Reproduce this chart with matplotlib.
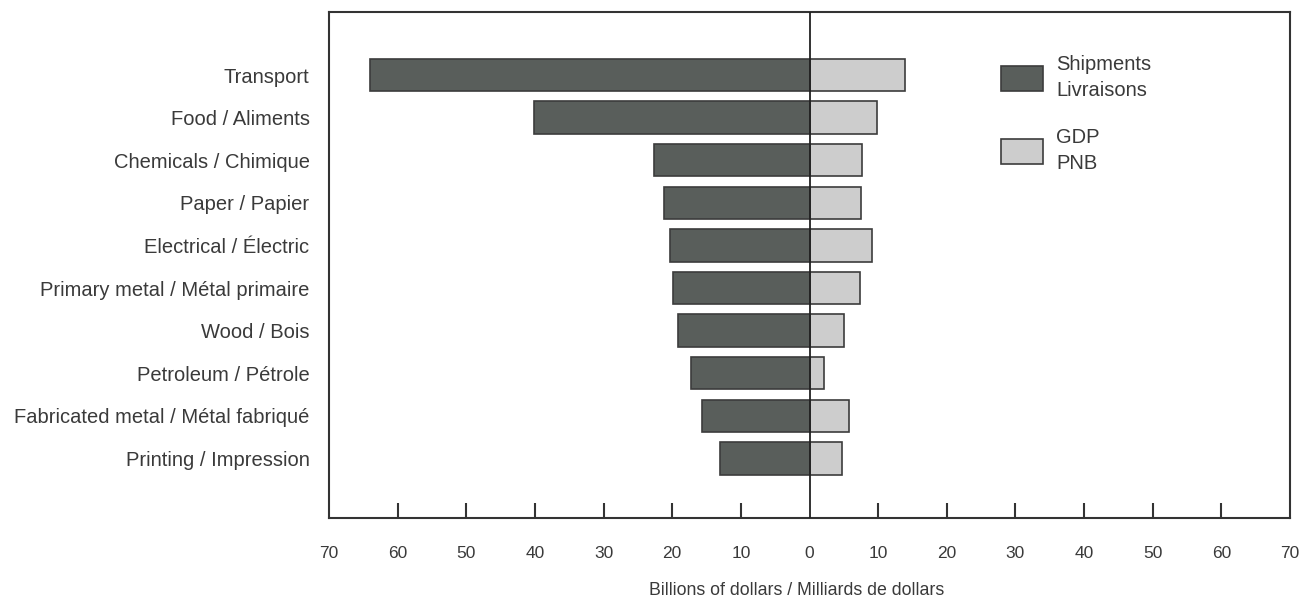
import matplotlib
matplotlib.use("Agg")
import matplotlib.pyplot as plt
import numpy as np

categories = ["Transport", "Food / Aliments", "Chemicals / Chimique", "Paper / Papier",
              "Electrical / Électric", "Primary metal / Métal primaire", "Wood / Bois",
              "Petroleum / Pétrole", "Fabricated metal / Métal fabriqué", "Printing / Impression"]
shipments = [64.0, 40.1, 22.6, 21.2, 20.3, 19.9, 19.2, 17.3, 15.6, 13.0]
gdp = [13.9, 9.9, 7.7, 7.5, 9.1, 7.4, 5.0, 2.1, 5.8, 4.7]
tick_values = [-70, -60, -50, -40, -30, -20, -10, 0, 10, 20, 30, 40, 50, 60, 70]
tick_labels = ["70", "60", "50", "40", "30", "20", "10", "0", "10", "20", "30", "40", "50", "60", "70"]

plt.rcParams['font.family'] = ['Liberation Sans', 'DejaVu Sans']
text_color = "#3a3a3a"
dark = "#595e5b"
light = "#cdcdcd"
edge = "#3c3c3c"

fig = plt.figure(figsize=(13.11, 6.01), dpi=100)
ax = fig.add_axes([329/1311, 1 - 518/601, (1290-329)/1311, (518-12)/601])

y = np.arange(len(categories))
h = 0.76
ax.barh(y, [-v for v in shipments], height=h, color=dark, edgecolor=edge, linewidth=1.2,
        label="Shipments\nLivraisons", zorder=2)
ax.barh(y, gdp, height=h, color=light, edgecolor=edge, linewidth=1.2,
        label="GDP\nPNB", zorder=2)

ax.set_xlim(-70, 70)
ax.set_ylim(10.4, -1.48)
ax.axvline(0, color="#222222", linewidth=1.3, zorder=3)

ax.set_yticks(y)
ax.set_yticklabels(categories, fontsize=14.5, color=text_color)
ax.tick_params(axis='y', length=0, pad=14)

ax.set_xticks(tick_values)
ax.set_xticklabels(tick_labels, fontsize=12.5, color=text_color)
ax.tick_params(axis='x', direction='in', length=11, width=1.5, color="#333333", pad=20)
for val, t in zip(tick_values, ax.xaxis.get_major_ticks()):
    if val in (-70, 0, 70):
        t.tick1line.set_visible(False)
    t.tick2line.set_visible(False)

ax.set_xlabel("Billions of dollars / Milliards de dollars", fontsize=12.8, color=text_color, labelpad=15)
ax.xaxis.label.set_x((797 - 329) / 961)

for s in ax.spines.values():
    s.set_color("#333333")
    s.set_linewidth(1.5)

leg = ax.legend(loc="upper left", bbox_to_anchor=(0.699, 0.915), frameon=False,
                fontsize=14.5, handlelength=2.1, handleheight=1.55, labelspacing=1.4,
                handletextpad=0.65, borderaxespad=0, borderpad=0)
for t in leg.get_texts():
    t.set_color(text_color)
    t.set_linespacing(1.45)

fig.savefig("out.png", dpi=100)
